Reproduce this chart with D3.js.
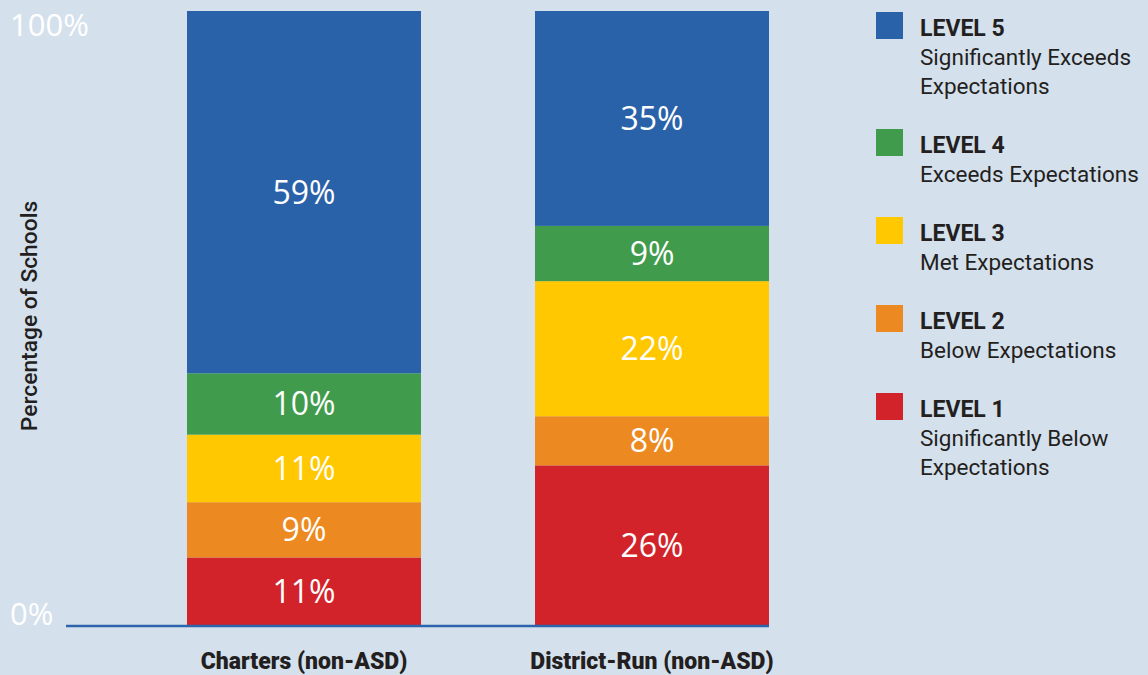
<!DOCTYPE html>
<html><head><meta charset="utf-8">
<script src="https://cdn.jsdelivr.net/npm/d3@7"></script>
<style>
html,body{margin:0;padding:0;background:#d5e0ed;}
svg{display:block;}
</style></head>
<body>
<svg id="chart" width="1148" height="675"></svg>
<script>
const categories = ["Charters (non-ASD)", "District-Run (non-ASD)"];
const levels = ["LEVEL 1", "LEVEL 2", "LEVEL 3", "LEVEL 4", "LEVEL 5"];
const levelDescriptions = [
  ["Significantly Below", "Expectations"],
  ["Below Expectations"],
  ["Met Expectations"],
  ["Exceeds Expectations"],
  ["Significantly Exceeds", "Expectations"]
];
const level1 = [11, 26];
const level2 = [9, 8];
const level3 = [11, 22];
const level4 = [10, 9];
const level5 = [59, 35];
const colors = ["#d2232a", "#ec8a21", "#ffc800", "#409c4c", "#2a62a9"];
const yTicks = [0, 100];
const yTitle = "Percentage of Schools";

const series = [level1, level2, level3, level4, level5];
const rows = categories.map((c, i) => {
  const r = {category: c};
  levels.forEach((l, j) => r[l] = series[j][i]);
  return r;
});

const svg = d3.select("#chart");
const y = d3.scaleLinear().domain([0, 100]).range([625, 11]);
const x = d3.scaleBand().domain(categories).range([187, 769]).paddingInner(0.3276).paddingOuter(0);

const stack = d3.stack().keys(levels)(rows);

const g = svg.append("g");
stack.forEach((layer, li) => {
  g.selectAll(null).data(layer).enter().append("rect")
    .attr("x", d => x(d.data.category))
    .attr("width", x.bandwidth())
    .attr("y", d => y(d[1]))
    .attr("height", d => y(d[0]) - y(d[1]))
    .attr("fill", colors[li]);
  g.selectAll(null).data(layer).enter().append("text")
    .attr("x", d => x(d.data.category) + x.bandwidth() / 2)
    .attr("y", d => (y(d[0]) + y(d[1])) / 2)
    .attr("dy", "0.36em")
    .attr("text-anchor", "middle")
    .attr("fill", "#ffffff")
    .style("font-family", "'Open Sans', sans-serif")
    .style("font-weight", "500")
    .style("font-size", "32px")
    .text(d => (d[1] - d[0]) + "%");
});

// baseline axis
svg.append("line")
  .attr("x1", 66).attr("x2", x.range()[1])
  .attr("y1", y(0) + 1).attr("y2", y(0) + 1)
  .attr("stroke", "#2e63ad").attr("stroke-width", 2.5);

// y tick labels
svg.selectAll(".ytick").data(yTicks).enter().append("text")
  .attr("class", "ytick")
  .attr("x", 10)
  .attr("y", d => d === 100 ? y(d) + 25 : y(d))
  .attr("fill", "#ffffff")
  .style("font-family", "'Open Sans', sans-serif")
  .style("font-weight", "500")
  .style("font-size", "31px")
  .text(d => d + "%");

// y title
svg.append("text")
  .attr("transform", "translate(37,316) rotate(-90)")
  .attr("text-anchor", "middle")
  .attr("fill", "#231f20")
  .style("font-family", "Roboto, sans-serif")
  .style("font-weight", "500")
  .style("font-size", "22.8px")
  .text(yTitle);

// category labels
svg.selectAll(".cat").data(categories).enter().append("text")
  .attr("class", "cat")
  .attr("x", d => x(d) + x.bandwidth() / 2)
  .attr("y", 669)
  .attr("text-anchor", "middle")
  .attr("fill", "#231f20")
  .style("font-family", "Roboto, sans-serif")
  .style("font-weight", "900")
  .style("font-size", "23px")
  .text(d => d);

// legend (top = LEVEL 5)
const legendOrder = [4, 3, 2, 1, 0];
let ly = 12;
const lineH = 29;
legendOrder.forEach(i => {
  svg.append("rect").attr("x", 876).attr("y", ly).attr("width", 27).attr("height", 27).attr("fill", colors[i]);
  svg.append("text").attr("x", 920).attr("y", ly + 24)
    .attr("fill", "#231f20")
    .style("font-family", "Roboto, sans-serif").style("font-weight", "700").style("font-size", "23px")
    .text(levels[i]);
  levelDescriptions[i].forEach((t, k) => {
    svg.append("text").attr("x", 920).attr("y", ly + 24 + lineH * (k + 1))
      .attr("fill", "#231f20")
      .style("font-family", "Roboto, sans-serif").style("font-size", "22.5px")
      .text(t);
  });
  ly += (levelDescriptions[i].length + 1) * lineH + 30;
});
</script>
</body></html>
